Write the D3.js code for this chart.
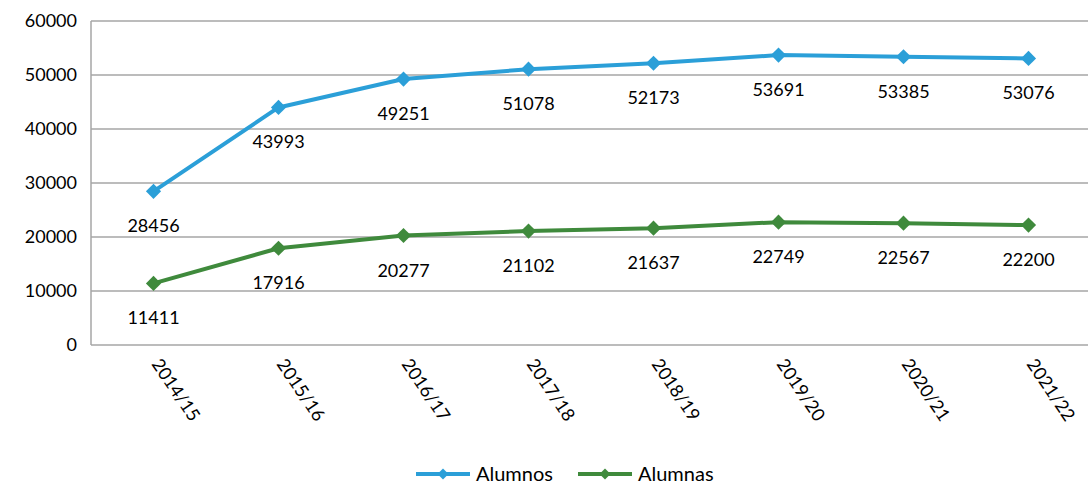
<!DOCTYPE html>
<html><head><meta charset="utf-8">
<script src="https://cdn.jsdelivr.net/npm/d3@7"></script>
<style>body{margin:0;background:#fff}svg{display:block}text{font-family:Lato,"Open Sans",sans-serif;fill:#000}</style>
</head><body><svg id="c" width="1088" height="484"></svg>
<script>
const categories = ["2014/15","2015/16","2016/17","2017/18","2018/19","2019/20","2020/21","2021/22"];
const alumnos = [28456,43993,49251,51078,52173,53691,53385,53076];
const alumnas = [11411,17916,20277,21102,21637,22749,22567,22200];
const yTicks = [0,10000,20000,30000,40000,50000,60000];
const seriesNames = ["Alumnos","Alumnas"];

const svg = d3.select("#c");
const x = d3.scalePoint().domain(categories).range([91,1091]).padding(0.5);
const y = d3.scaleLinear().domain([0,60000]).range([345,21]);

// gridlines
svg.append("g").selectAll("line").data(yTicks).join("line")
  .attr("x1",91).attr("x2",1088).attr("y1",d=>y(d)).attr("y2",d=>y(d))
  .attr("stroke","#a6a6a6").attr("stroke-width",1.5);
svg.append("line").attr("x1",91).attr("x2",91).attr("y1",y(60000)).attr("y2",y(0))
  .attr("stroke","#a6a6a6").attr("stroke-width",1.5);

// y axis
const yAxis = d3.axisLeft(y).tickValues(yTicks).tickSize(0).tickPadding(14).tickFormat(d3.format("d"));
const gy = svg.append("g").attr("transform","translate(91,0)").call(yAxis);
gy.select(".domain").remove();
gy.selectAll("text").style("font-size","18px").style("font-family","Lato,'Open Sans',sans-serif").attr("fill","#000");

// x axis
const xAxis = d3.axisBottom(x).tickSize(0).tickPadding(0);
const gx = svg.append("g").attr("transform","translate(0,345)").call(xAxis);
gx.select(".domain").remove();
gx.selectAll("text").style("font-size","18px").style("font-family","Lato,'Open Sans',sans-serif").attr("fill","#000")
  .attr("text-anchor","start").attr("dy",null).attr("y",0)
  .attr("transform","translate(-3,19) rotate(56)");

const series = [
  {name:seriesNames[0], values:alumnos, color:"#2b9fd8"},
  {name:seriesNames[1], values:alumnas, color:"#3f8a3c"}
];
const line = d3.line().x((d,i)=>x(categories[i])).y(d=>y(d));
series.forEach(s=>{
  svg.append("path").datum(s.values).attr("d",line).attr("fill","none")
    .attr("stroke",s.color).attr("stroke-width",4).attr("stroke-linejoin","round");
  svg.append("g").selectAll("path").data(s.values).join("path")
    .attr("transform",(d,i)=>`translate(${x(categories[i])},${y(d)}) rotate(45)`)
    .attr("d",d3.symbol().type(d3.symbolSquare).size(115)).attr("fill",s.color);
  svg.append("g").selectAll("text").data(s.values).join("text")
    .attr("x",(d,i)=>x(categories[i])).attr("y",d=>y(d)+41)
    .attr("text-anchor","middle").style("font-size","18px").text(d=>d);
});

// legend
const leg = svg.append("g");
const legX = [416,578];
series.forEach((s,i)=>{
  const g = leg.append("g").attr("transform",`translate(${legX[i]},474)`);
  g.append("line").attr("x1",0).attr("x2",54).attr("stroke",s.color).attr("stroke-width",4);
  g.append("path").attr("transform","translate(27,0) rotate(45)")
    .attr("d",d3.symbol().type(d3.symbolSquare).size(60)).attr("fill",s.color);
  g.append("text").attr("x",60).attr("y",7).style("font-size","20px").text(s.name);
});
</script></body></html>
